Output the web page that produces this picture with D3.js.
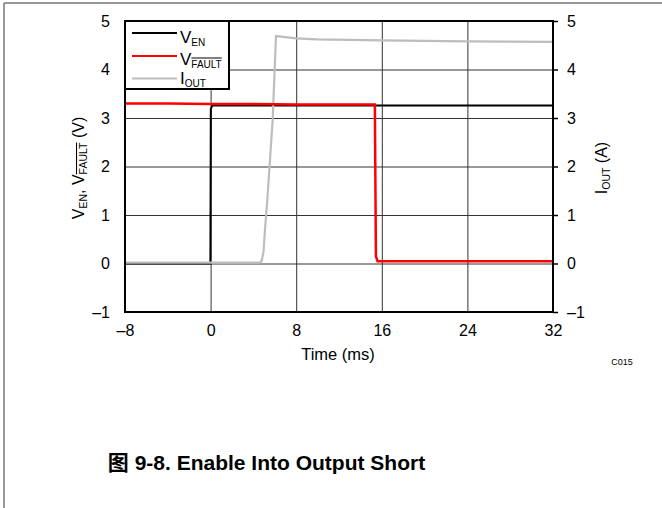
<!DOCTYPE html>
<html>
<head>
<meta charset="utf-8">
<script src="https://cdn.jsdelivr.net/npm/d3@7"></script>
<style>
  html, body { margin: 0; padding: 0; background: #fff; }
  svg { display: block; }
  text { font-family: "Liberation Sans", Arial, "Noto Sans CJK SC", sans-serif; }
</style>
</head>
<body>
<svg id="chart" width="662" height="508"></svg>
<script>
// ---- data ----
const xTicks = [-8, 0, 8, 16, 24, 32];
const yTicks = [-1, 0, 1, 2, 3, 4, 5];
const xGrid = [0, 8, 16, 24];
const yGrid = [0, 1, 2, 3, 4];

const enTime = [-8, -0.02, 0.02, 0.15, 32];
const enValue = [0, 0, 3.18, 3.26, 3.26];

const faultTime = [-8, -4, 0, 4, 8, 12, 15.35, 15.45, 15.6, 32];
const faultValue = [3.30, 3.30, 3.29, 3.29, 3.28, 3.28, 3.28, 0.15, 0.045, 0.045];

const ioutTime = [-8, 4.6, 4.77, 4.95, 5.08, 5.3, 5.8, 6.11, 8, 10, 16, 24, 32];
const ioutValue = [0.02, 0.02, 0.05, 0.25, 0.69, 1.31, 2.96, 4.69, 4.64, 4.62, 4.60, 4.58, 4.57];

const seriesNames = ["EN", "FAULT", "OUT"];
const seriesColors = ["#000000", "#ff0000", "#bdbdbd"];

// ---- layout ----
const svg = d3.select("#chart");
const L = 125, R = 553, T = 21, B = 312;

const x = d3.scaleLinear().domain([-8, 32]).range([L, R]);
const y = d3.scaleLinear().domain([-1, 5]).range([B, T]);
const y2 = d3.scaleLinear().domain([-1, 5]).range([B, T]);

// outer frame
svg.append("line").attr("x1", 4).attr("x2", 4).attr("y1", 3).attr("y2", 508)
  .attr("stroke", "#777").attr("stroke-width", 1.5);
svg.append("line").attr("x1", 4).attr("x2", 662).attr("y1", 3).attr("y2", 3)
  .attr("stroke", "#777").attr("stroke-width", 1.5);

// grid (via axes)
const gx = svg.append("g").attr("class", "gridx").attr("transform", `translate(0,${B})`)
  .call(d3.axisBottom(x).tickValues(xGrid).tickSize(-(B - T)).tickFormat(""));
const gy = svg.append("g").attr("class", "gridy").attr("transform", `translate(${L},0)`)
  .call(d3.axisLeft(y).tickValues(yGrid).tickSize(-(R - L)).tickFormat(""));
[gx, gy].forEach(g => {
  g.select(".domain").remove();
  g.selectAll(".tick line").attr("stroke", "#333").attr("stroke-width", 1);
});

// series
const line = d3.line().x(d => x(d[0])).y(d => y(d[1]));
const line2 = d3.line().x(d => x(d[0])).y(d => y2(d[1]));
svg.append("path").datum(d3.zip(enTime, enValue)).attr("d", line)
  .attr("fill", "none").attr("stroke", seriesColors[0]).attr("stroke-width", 2);
svg.append("path").datum(d3.zip(ioutTime, ioutValue)).attr("d", line2)
  .attr("fill", "none").attr("stroke", seriesColors[2]).attr("stroke-width", 2.2);
svg.append("path").datum(d3.zip(faultTime, faultValue)).attr("d", line)
  .attr("fill", "none").attr("stroke", seriesColors[1]).attr("stroke-width", 2.5);

// plot frame
svg.append("rect").attr("x", L).attr("y", T).attr("width", R - L).attr("height", B - T)
  .attr("fill", "none").attr("stroke", "#000").attr("stroke-width", 2);

const fmt = d => d < 0 ? "\u2013" + Math.abs(d) : String(d);

// axes
const axL = svg.append("g").attr("transform", `translate(${L},0)`)
  .call(d3.axisLeft(y).tickValues(yTicks).tickSize(0).tickPadding(15).tickFormat(fmt));
const axR = svg.append("g").attr("transform", `translate(${R},0)`)
  .call(d3.axisRight(y2).tickValues(yTicks).tickSize(5).tickPadding(9).tickFormat(fmt));
const axB = svg.append("g").attr("transform", `translate(0,${B})`)
  .call(d3.axisBottom(x).tickValues(xTicks).tickSize(0).tickPadding(13).tickFormat(fmt));
[axL, axR, axB].forEach(a => {
  a.select(".domain").remove();
  a.selectAll("text").attr("font-size", 16).attr("fill", "#000")
    .attr("font-family", "Liberation Sans, Arial, sans-serif");
  a.selectAll("line").attr("stroke", "#000").attr("stroke-width", 1.5);
});

// axis titles
svg.append("text").attr("x", (L + R) / 2 - 1).attr("y", 360).attr("text-anchor", "middle")
  .attr("font-size", 16.5).text("Time (ms)");

const lt = svg.append("text").attr("transform", "translate(84,168) rotate(-90)")
  .attr("text-anchor", "middle").attr("font-size", 16);
lt.append("tspan").text("V");
lt.append("tspan").attr("font-size", 10.5).attr("dy", 3).text("EN");
lt.append("tspan").attr("dy", -3).text(", V");
lt.append("tspan").attr("font-size", 10.5).attr("dy", 3)
  .attr("text-decoration", "overline").text("FAULT");
lt.append("tspan").attr("dy", -3).text(" (V)");

const rt = svg.append("text").attr("transform", "translate(607,168) rotate(-90)")
  .attr("text-anchor", "middle").attr("font-size", 16);
rt.append("tspan").text("I");
rt.append("tspan").attr("font-size", 10.5).attr("dy", 3).text("OUT");
rt.append("tspan").attr("dy", -3).text(" (A)");

svg.append("text").attr("x", 622).attr("y", 365).attr("text-anchor", "middle")
  .attr("font-size", 9).text("C015");

// legend
const lg = svg.append("g");
lg.append("rect").attr("x", L).attr("y", T).attr("width", 104).attr("height", 68)
  .attr("fill", "#fff").attr("stroke", "#000").attr("stroke-width", 2);
const legY = [33, 56, 78.5];
const legBase = [43, 64.5, 84];
seriesNames.forEach((n, i) => {
  lg.append("line").attr("x1", 132).attr("x2", 177).attr("y1", legY[i]).attr("y2", legY[i])
    .attr("stroke", seriesColors[i]).attr("stroke-width", 2.2);
  const t = lg.append("text").attr("x", 180).attr("y", legBase[i]).attr("font-size", 17);
  t.append("tspan").text(i === 2 ? "I" : "V");
  const s = t.append("tspan").attr("font-size", 10).attr("dy", 3).text(n);
  if (i === 1) s.attr("text-decoration", "overline");
});

// caption
svg.append("text").attr("x", 266.5).attr("y", 470).attr("text-anchor", "middle")
  .attr("font-size", 21).attr("font-weight", "bold")
  .attr("font-family", "Liberation Sans, Arial, Noto Sans CJK SC, sans-serif")
  .text("图 9-8. Enable Into Output Short");
</script>
</body>
</html>
